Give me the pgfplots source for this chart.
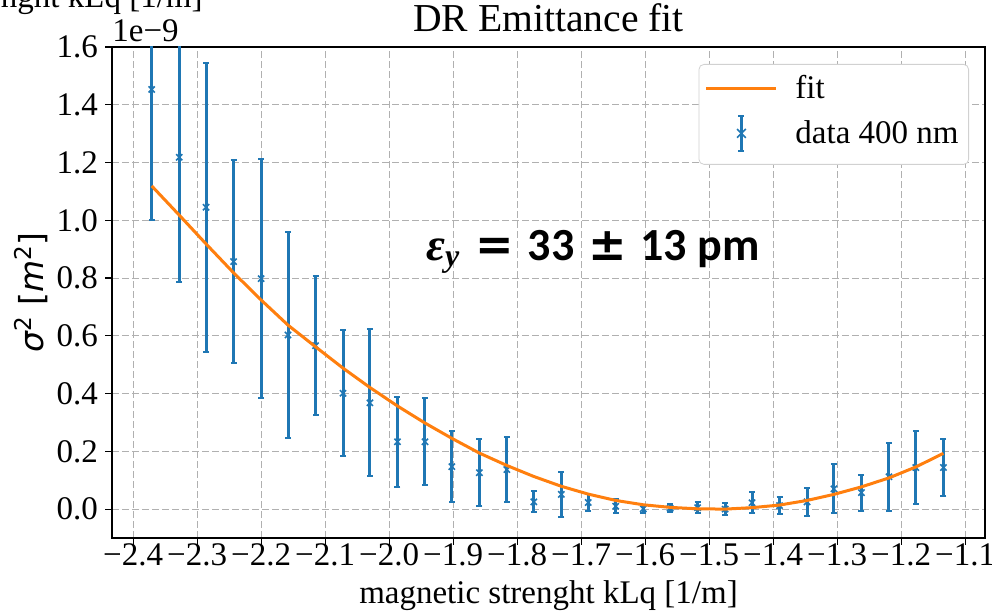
\documentclass[border=0pt]{standalone}
\usepackage{fontspec}
\setmainfont{Liberation Serif}
\newfontfamily\djv{DejaVu Sans}
\newfontfamily\carlito{Carlito}
\usepackage{pgfplots}
\pgfplotsset{compat=1.18}

\definecolor{c0}{HTML}{1F77B4}
\definecolor{c1}{HTML}{FF7F0E}
\definecolor{gridc}{HTML}{B0B0B0}

% measured data, sigma^2 in units of 1e-9 m^2
\pgfplotstableread{
x       y      ey
-2.371  1.453  0.453
-2.328  1.218  0.431
-2.286  1.045  0.501
-2.243  0.857  0.351
-2.200  0.798  0.413
-2.158  0.603  0.357
-2.115  0.566  0.240
-2.072  0.401  0.218
-2.030  0.368  0.255
-1.987  0.233  0.156
-1.944  0.233  0.151
-1.902  0.147  0.124
-1.859  0.126  0.116
-1.816  0.137  0.112
-1.774  0.025  0.036
-1.731  0.051  0.077
-1.689  0.023  0.028
-1.646  0.010  0.025
-1.603  0.001  0.014
-1.561  0.003  0.013
-1.518  0.005  0.018
-1.475  0.000  0.020
-1.433  0.022  0.037
-1.390  0.012  0.030
-1.347  0.025  0.048
-1.305  0.070  0.085
-1.262  0.057  0.062
-1.219  0.112  0.117
-1.177  0.144  0.127
-1.134  0.144  0.100
}\meas

% fitted parabola
\pgfplotstableread{
x       y
-2.371  1.119
-2.328  1.018
-2.286  0.918
-2.243  0.818
-2.200  0.724
-2.158  0.637
-2.115  0.562
-2.072  0.488
-2.030  0.421
-1.987  0.357
-1.944  0.298
-1.902  0.245
-1.859  0.194
-1.816  0.151
-1.774  0.113
-1.731  0.079
-1.689  0.052
-1.646  0.030
-1.603  0.015
-1.561  0.006
-1.518  0.001
-1.475  0.000
-1.433  0.005
-1.390  0.014
-1.347  0.030
-1.305  0.051
-1.262  0.077
-1.219  0.108
-1.177  0.146
-1.134  0.193
}\fit

\newcommand{\emitlabel}{%
  \fontsize{23}{26}\selectfont\bfseries
  \itshape ε\raisebox{-0.3ex}{\fontsize{16}{16}\selectfont y}\upshape
  \hspace{0.35em}{\djv =}\hspace{0.3em}{\carlito 33}\hspace{0.3em}{\djv ±}\hspace{0.3em}{\carlito 13 pm}}

\begin{document}
\begin{tikzpicture}
\useasboundingbox (-56pt,-37.5pt) rectangle (440pt,269pt);
\begin{axis}[
  name=ax, at={(0,0)}, anchor=south west,
  scale only axis, width=436.5pt, height=245.5pt,
  clip mode=individual,
  xmin=-2.433, xmax=-1.069, ymin=-0.1, ymax=1.6,
  xtick={-2.4,-2.3,-2.2,-2.1,-2.0,-1.9,-1.8,-1.7,-1.6,-1.5,-1.4,-1.3,-1.2,-1.1},
  xticklabels={−2.4,−2.3,−2.2,−2.1,−2.0,−1.9,−1.8,−1.7,−1.6,−1.5,−1.4,−1.3,−1.2,−1.1},
  ytick={0,0.2,0.4,0.6,0.8,1.0,1.2,1.4,1.6},
  yticklabels={0.0,0.2,0.4,0.6,0.8,1.0,1.2,1.4,1.6},
  tick align=outside, tick pos=left,
  major tick length=3.5pt,
  tick style={black, line width=0.6pt},
  axis line style={black, line width=0.6pt},
  grid=major,
  major grid style={gridc, dash pattern=on 3.5pt off 1.5pt, line width=0.5pt},
  ticklabel style={font=\fontsize{16.5}{19}\selectfont},
  xticklabel style={anchor=base, yshift=-10.5pt},
  yticklabel style={anchor=east},
  title={DR Emittance fit},
  title style={font=\fontsize{19.8}{23}\selectfont, at={(axis description cs:0.5,1)}, anchor=base, yshift=1.5pt},
  xlabel={magnetic strenght kLq [1/m]},
  xlabel style={font=\fontsize{16.5}{19}\selectfont, at={(axis description cs:0.5,0)}, anchor=base, yshift=-33pt},
  legend cell align=left,
  reverse legend,
  legend style={at={(rel axis cs:1,1)}, anchor=north east, xshift=-8pt, yshift=-8.5pt,
    draw=black!18, rounded corners=2.5pt, fill=white,
    font=\fontsize{16.5}{19}\selectfont, row sep=4pt, inner sep=3pt},
]
\addplot[only marks, mark=x, mark size=2.2pt, c0, mark options={line width=0.8pt},
  legend image code/.code={
    \path[draw=none, fill=none] (0pt,-12.5pt) rectangle (42.5pt,9pt);
    \draw[c0, line width=1.5pt] (17.5pt,-8.75pt) -- (17.5pt,8.75pt);
    \draw[c0, line width=1pt] (16pt,-8.75pt) -- (19pt,-8.75pt) (16pt,8.75pt) -- (19pt,8.75pt);
    \draw[c0, line width=0.8pt] (15.3pt,-2.2pt) -- (19.7pt,2.2pt) (15.3pt,2.2pt) -- (19.7pt,-2.2pt);
  },
  error bars/.cd, y dir=both, y explicit,
  error bar style={c0, line width=1.5pt},
  error mark options={c0, rotate=90, mark size=1.5pt, line width=1pt},
  ] table[x=x, y=y, y error=ey] {\meas};
\addlegendentry{data 400 nm}
\addplot[c1, line width=1.5pt,
  legend image code/.code={
    \path[draw=none, fill=none] (0pt,-9pt) rectangle (42.5pt,9pt);
    \draw[c1, line width=1.5pt] (0pt,0pt) -- (35pt,0pt);
  }] table[x=x, y=y] {\fit};
\addlegendentry{fit}
\end{axis}

\node[anchor=base, inner sep=0pt] at (240.5pt,138.9pt) {\emitlabel};
\node[anchor=base west, inner sep=0pt, font=\fontsize{16.5}{19}\selectfont]
  at ([yshift=2.5pt]ax.north west) {1e−9};
\node[rotate=90, anchor=base, inner sep=0pt, font=\djv\fontsize{16.5}{19}\selectfont]
  at ([xshift=-34pt]ax.west)
  {\itshape σ\textsuperscript{\upshape 2} \upshape[\itshape m\textsuperscript{\upshape 2}\upshape]};
\node[anchor=base east, inner sep=0pt, font=\fontsize{16.5}{19}\selectfont]
  at (45.5pt,265pt) {magnetic strenght kLq [1/m]};
\end{tikzpicture}
\end{document}
